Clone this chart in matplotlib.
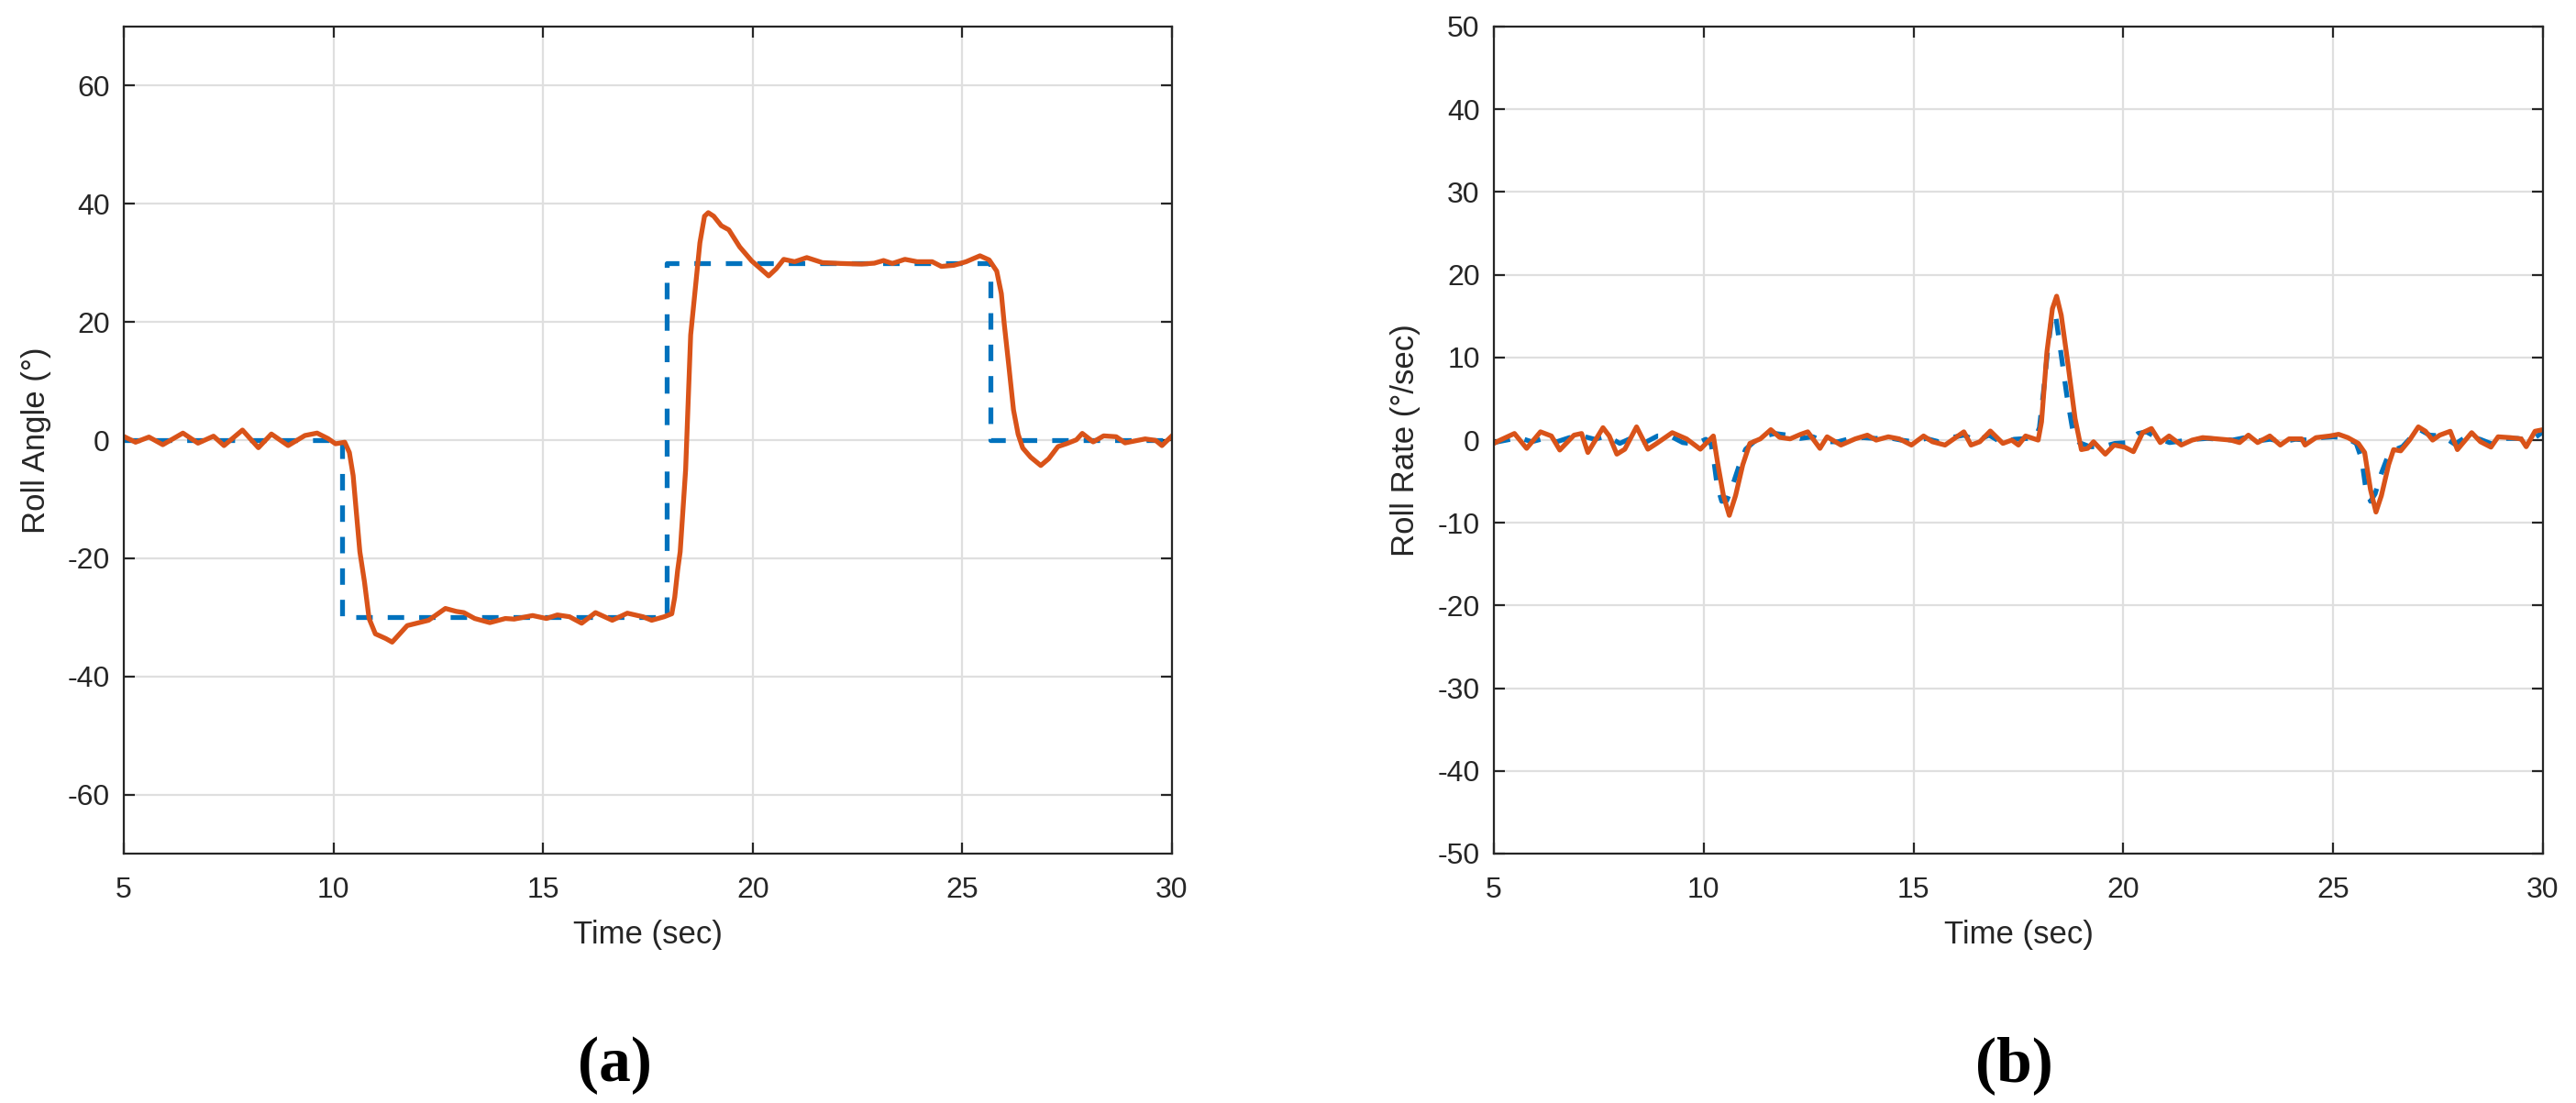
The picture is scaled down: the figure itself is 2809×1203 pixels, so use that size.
import matplotlib
matplotlib.use("Agg")
import matplotlib.pyplot as plt

plt.rcParams['font.family'] = ['Liberation Sans', 'DejaVu Sans']
plt.rcParams['axes.unicode_minus'] = False

# ---------------- data: (a) roll angle ----------------
angle_ref_t = [5, 10.2, 10.2, 17.95, 17.95, 25.68, 25.68, 30]
angle_ref_v = [0, 0, -30, -30, 30, 30, 0, 0]

angle_t = [5.0, 5.28, 5.6, 5.93, 6.41, 6.77, 7.14, 7.39, 7.83, 8.21, 8.52, 8.92, 9.32, 9.61,
           9.87, 10.05, 10.27, 10.38, 10.47, 10.55, 10.63, 10.74, 10.85, 11.0, 11.25, 11.4, 11.76,
           12.27, 12.67, 12.93, 13.11, 13.37, 13.73, 14.1, 14.31, 14.75, 15.08, 15.34, 15.63,
           15.92, 16.25, 16.65, 17.01, 17.38, 17.59, 17.89, 18.07, 18.14, 18.21, 18.27, 18.4,
           18.52, 18.63, 18.74, 18.85, 18.94, 19.07, 19.25, 19.43, 19.69, 19.98, 20.23, 20.38,
           20.56, 20.74, 21.0, 21.29, 21.66, 22.1, 22.6, 22.9, 23.12, 23.33, 23.63, 23.92,
           24.28, 24.5, 24.8, 25.09, 25.42, 25.64, 25.82, 25.93, 26.0, 26.12, 26.22, 26.33,
           26.44, 26.63, 26.87, 27.06, 27.28, 27.5, 27.72, 27.86, 28.12, 28.37, 28.67, 28.88,
           29.1, 29.36, 29.61, 29.76, 30.0]
angle_v = [0.62, -0.36, 0.52, -0.78, 1.19, -0.52, 0.67, -0.93, 1.7, -1.29, 1.03, -0.93, 0.78, 1.19,
           0.26, -0.62, -0.36, -2.1, -6.0, -12.5, -18.9, -24.0, -30.2, -32.8, -33.6, -34.2, -31.4,
           -30.5, -28.5, -29.0, -29.2, -30.2, -30.9, -30.2, -30.3, -29.7, -30.2, -29.6, -29.9,
           -31.0, -29.2, -30.5, -29.3, -29.9, -30.5, -29.9, -29.4, -26.6, -22.0, -18.9, -5.0,
           17.8, 25.6, 33.4, 37.9, 38.5, 37.9, 36.3, 35.6, 32.7, 30.3, 28.75, 27.8,
           29.0, 30.6, 30.2, 30.9, 30.05, 29.9, 29.8, 29.95, 30.4, 29.9, 30.6, 30.2,
           30.2, 29.4, 29.6, 30.2, 31.2, 30.5, 28.6, 24.8, 19.6, 11.8, 5.1, 1.0,
           -1.34, -2.9, -4.3, -3.15, -1.1, -0.57, 0.05, 1.14, -0.31, 0.72, 0.57, -0.47,
           -0.16, 0.2, -0.05, -0.93, 0.72]

# ---------------- data: (b) roll rate ----------------
rate_ref_t = [5.0, 5.3, 5.6, 5.9, 6.2, 6.5, 6.8, 7.1, 7.4, 7.7, 8.0, 8.3, 8.6, 8.9, 9.2, 9.5, 9.8,
              10.05, 10.18, 10.25, 10.32, 10.43, 10.55, 10.68, 10.85, 11.0, 11.2, 11.45, 11.7,
              12.0, 12.3, 12.6, 12.9, 13.2, 13.5, 13.8, 14.1, 14.4, 14.7, 15.0, 15.3, 15.6,
              15.9, 16.2, 16.5, 16.8, 17.1, 17.4, 17.7, 17.9, 18.0, 18.1, 18.2, 18.3, 18.38,
              18.5, 18.65, 18.8, 18.95, 19.2, 19.5, 19.8, 20.1, 20.35, 20.55, 20.8, 21.1, 21.4,
              21.7, 22.0, 22.3, 22.6, 22.9, 23.2, 23.5, 23.8, 24.1, 24.4, 24.7, 25.0, 25.3,
              25.55, 25.68, 25.77, 25.89, 26.0, 26.15, 26.3, 26.45, 26.65, 26.85, 27.05, 27.3,
              27.6, 27.9, 28.2, 28.5, 28.8, 29.1, 29.4, 29.7, 30.0]
rate_ref_v = [-0.3, 0.0, 0.3, -0.2, 0.2, -0.2, 0.3, 0.5, 0.1, 0.5, -0.4, 0.3, -0.3, 0.5, 0.5, -0.3, -0.5,
              0.1, -0.5, -2.8, -5.5, -7.4, -7.3, -5.6, -3.0, -1.1, -0.2, 0.5, 0.8,
              0.6, 0.2, 0.4, -0.2, -0.2, 0.2, 0.3, 0.2, 0.3, 0.0, -0.2, 0.2, -0.2,
              0.3, 0.6, -0.1, 0.6, -0.3, 0.1, 0.2, 0.2, 1.5, 6.0, 11.0, 15.0, 15.3,
              11.0, 5.5, 1.0, -0.3, -0.8, -0.8, -0.4, -0.3, 0.8, 1.0, 0.3, -0.3, -0.1,
              0.1, 0.2, 0.1, 0.0, 0.3, -0.1, 0.1, -0.2, 0.1, 0.0, 0.3, 0.4, 0.3,
              -0.4, -2.3, -5.6, -7.4, -6.5, -4.0, -2.0, -1.2, -0.8, 0.3, 1.3, 0.6,
              0.5, -0.5, 0.5, 0.1, -0.5, 0.2, 0.2, -0.1, 1.0]

rate_t = [5.0, 5.15, 5.49, 5.78, 6.11, 6.37, 6.57, 6.91, 7.09, 7.24, 7.6, 7.75, 7.93, 8.12, 8.4,
          8.67, 8.88, 9.25, 9.59, 9.92, 10.23, 10.34, 10.47, 10.61, 10.76, 10.93, 11.1, 11.35,
          11.6, 11.81, 12.06, 12.31, 12.48, 12.77, 12.94, 13.27, 13.61, 13.9, 14.11, 14.4,
          14.66, 14.95, 15.24, 15.45, 15.75, 16.2, 16.37, 16.58, 16.83, 17.13, 17.34, 17.5,
          17.67, 17.97, 18.05, 18.18, 18.31, 18.41, 18.52, 18.68, 18.85, 19.0, 19.15, 19.29,
          19.57, 19.78, 20.03, 20.24, 20.46, 20.67, 20.88, 21.09, 21.38, 21.64, 21.89, 22.23,
          22.56, 22.77, 22.98, 23.2, 23.49, 23.74, 23.95, 24.25, 24.33, 24.59, 24.92, 25.13,
          25.35, 25.6, 25.75, 25.89, 26.02, 26.15, 26.32, 26.44, 26.61, 26.82, 27.03, 27.2,
          27.37, 27.54, 27.79, 27.96, 28.3, 28.51, 28.76, 28.93, 29.22, 29.48, 29.6, 29.81, 30.0]
rate_v = [-0.4, 0.0, 0.8, -1.0, 1.0, 0.5, -1.2, 0.6, 0.8, -1.5, 1.5, 0.5, -1.7, -1.1, 1.6,
          -1.1, -0.4, 0.9, 0.15, -1.1, 0.5, -3.0, -6.7, -9.1, -6.7, -3.0, -0.4, 0.15,
          1.26, 0.33, 0.15, 0.7, 1.0, -1.0, 0.4, -0.6, 0.15, 0.6, 0.0, 0.4,
          0.15, -0.6, 0.5, -0.2, -0.6, 1.0, -0.6, -0.2, 1.1, -0.4, 0.0, -0.6,
          0.5, 0.0, 2.2, 10.7, 15.9, 17.4, 15.1, 9.2, 2.6, -1.15, -1.0, -0.2,
          -1.7, -0.6, -0.85, -1.4, 0.9, 1.4, -0.3, 0.5, -0.6, 0.0, 0.3, 0.15,
          0.0, -0.3, 0.6, -0.3, 0.5, -0.6, 0.15, 0.15, -0.6, 0.3, 0.5, 0.7,
          0.3, -0.4, -1.5, -6.0, -8.7, -6.7, -3.0, -1.15, -1.3, 0.0, 1.6, 1.07,
          0.0, 0.6, 1.07, -1.15, 0.9, -0.2, -0.85, 0.4, 0.3, 0.15, -0.8, 1.07, 1.26]

x_ticks = [5, 10, 15, 20, 25, 30]
angle_ticks = [-60, -40, -20, 0, 20, 40, 60]
rate_ticks = [-50, -40, -30, -20, -10, 0, 10, 20, 30, 40, 50]

BLUE = '#0072BD'
ORANGE = '#D95319'
DARK = '#262626'
GRID = '#DFDFDF'

W, H = 2809, 1203
fig = plt.figure(figsize=(W / 100, H / 100), dpi=100)

def px_axes(x0, x1, y0, y1):
    return fig.add_axes([x0 / W, 1 - y1 / H, (x1 - x0) / W, (y1 - y0) / H])

ax1 = px_axes(135, 1278, 29, 931)
ax2 = px_axes(1629, 2773, 29, 931)

def style(ax, yticks, ylim, ylabel, ylab_x):
    ax.set_xlim(5, 30)
    ax.set_ylim(*ylim)
    ax.set_xticks(x_ticks)
    ax.set_yticks(yticks)
    ax.set_xticklabels([str(v) for v in x_ticks])
    ax.set_yticklabels([str(v) for v in yticks])
    ax.grid(True, color=GRID, linewidth=1.6)
    ax.set_axisbelow(True)
    for s in ax.spines.values():
        s.set_color(DARK)
        s.set_linewidth(1.6)
        s.set_zorder(5)
    ax.tick_params(direction='in', length=8.6, width=1.6, color=DARK, labelcolor=DARK,
                   labelsize=23, top=True, right=True)
    ax.tick_params(axis='x', pad=18)
    ax.tick_params(axis='y', pad=11)
    ax.set_xlabel('Time (sec)', fontsize=25, color=DARK, labelpad=12)
    ax.set_ylabel(ylabel, fontsize=25, color=DARK)
    ax.yaxis.set_label_coords(ylab_x, 0.5)

ax1.plot(angle_ref_t, angle_ref_v, color=BLUE, lw=3.8, linestyle=(0, (3.4, 3.1)), zorder=3)
ax1.plot(angle_t, angle_v, color=ORANGE, lw=3.8, zorder=4)
style(ax1, angle_ticks, (-70, 70), 'Roll Angle (°)', -0.069)

ax2.plot(rate_ref_t, rate_ref_v, color=BLUE, lw=3.8, linestyle=(0, (3.4, 3.1)), zorder=3)
ax2.plot(rate_t, rate_v, color=ORANGE, lw=3.8, zorder=4)
style(ax2, rate_ticks, (-50, 50), 'Roll Rate (°/sec)', -0.070)

fig.text(670 / W, 1 - 1162 / H, '(a)', ha='center', va='center', fontsize=50,
         fontweight='bold', family=['Liberation Serif', 'DejaVu Serif'])
fig.text(2196 / W, 1 - 1162 / H, '(b)', ha='center', va='center', fontsize=50,
         fontweight='bold', family=['Liberation Serif', 'DejaVu Serif'])

fig.savefig('out.png', dpi=100, facecolor='white')
